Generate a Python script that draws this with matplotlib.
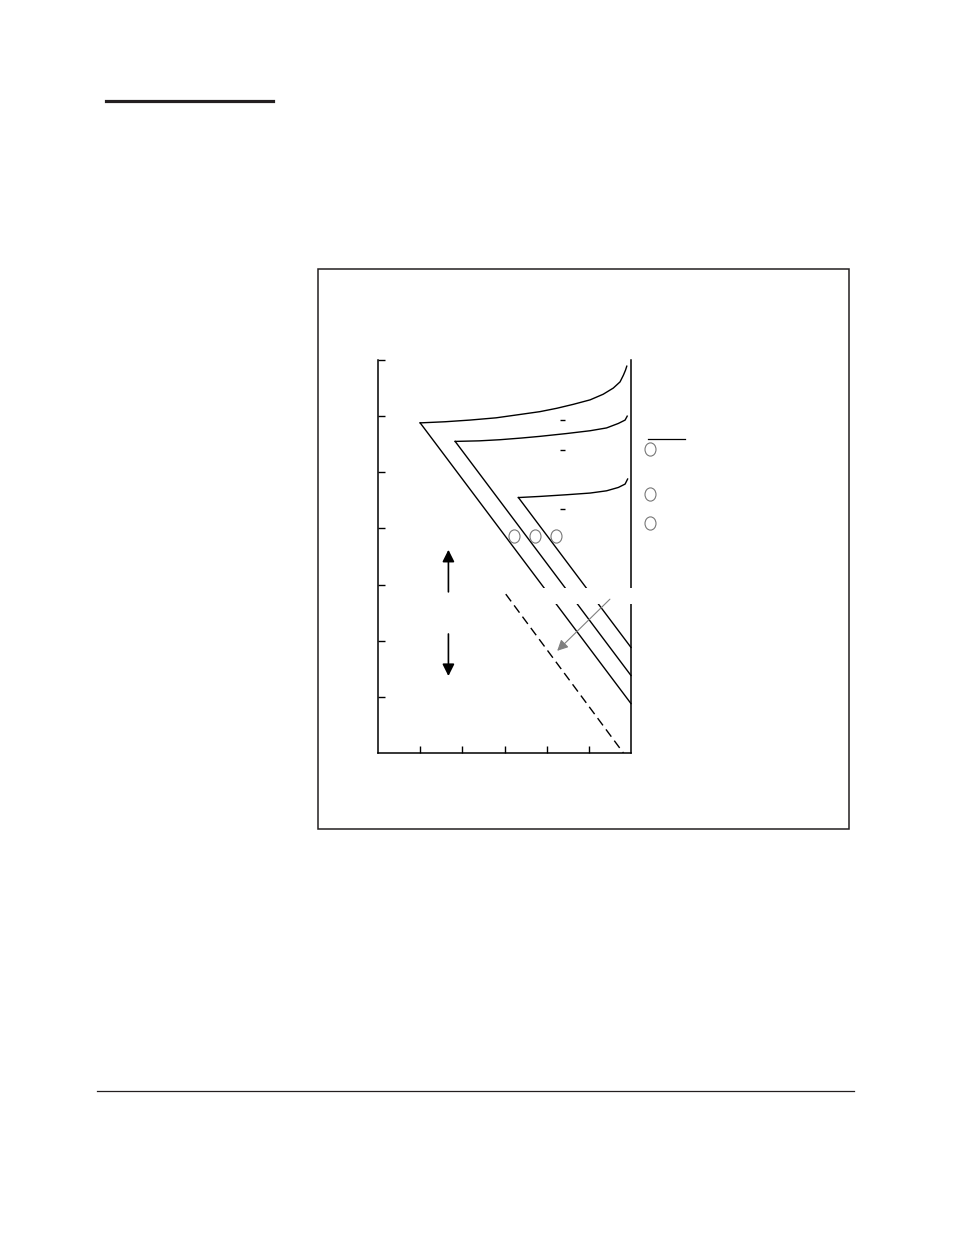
import numpy as np
import matplotlib
matplotlib.use("Agg")
import matplotlib.pyplot as plt
from matplotlib.path import Path
from matplotlib.transforms import Affine2D
from matplotlib.patches import Rectangle

# curve data (x: 0..6, y: 0..7 in axis units)
c1_x = [1.00, 1.59, 2.18, 2.80, 3.37, 3.84, 4.24, 4.63, 5.03, 5.34, 5.58, 5.74, 5.82, 5.87, 5.90]
c1_y = [5.88, 5.90, 5.93, 5.97, 6.03, 6.08, 6.14, 6.21, 6.29, 6.39, 6.50, 6.61, 6.73, 6.82, 6.89]
c2_x = [1.83, 2.40, 2.89, 3.40, 3.84, 4.47, 5.03, 5.42, 5.70, 5.86, 5.91]
c2_y = [5.55, 5.56, 5.58, 5.61, 5.64, 5.69, 5.74, 5.79, 5.87, 5.93, 6.00]
c3_x = [3.33, 3.84, 4.47, 5.03, 5.42, 5.70, 5.86, 5.92]
c3_y = [4.55, 4.57, 4.60, 4.63, 4.67, 4.73, 4.79, 4.88]

# straight legs, slope -1, end at the right axis
diag_x = [[1.00, 6.0], [1.83, 6.0], [3.33, 6.0]]
diag_y = [[5.88, 0.88], [5.55, 1.38], [4.55, 1.88]]
dash_x = [3.03, 5.82]
dash_y = [2.83, 0.00]

# circled markers (numbers missing) and short minus signs
circ_x = [3.23, 3.72, 4.22, 6.45, 6.45, 6.45]
circ_y = [3.87, 3.87, 3.87, 5.42, 4.61, 4.09]
minus_x = [4.375, 4.375, 4.375]
minus_y = [5.93, 5.40, 4.34]

xticks = [1, 2, 3, 4, 5]
yticks = [1, 2, 3, 4, 5, 6, 7]

W, H = 954, 1235
fig = plt.figure(figsize=(W / 100, H / 100), dpi=100)
ink = "#231f20"

# outer frame, header rule, footer rule
fig.add_artist(Rectangle((318 / W, 1 - 828.7 / H), 531 / W, 559.5 / H,
                         transform=fig.transFigure, fill=False, ec=ink, lw=1.1))
fig.add_artist(plt.Line2D([106 / W, 273 / W], [1 - 101.3 / H] * 2, color=ink, lw=2.3))
fig.add_artist(plt.Line2D([97 / W, 854 / W], [1 - 1091.3 / H] * 2, color=ink, lw=0.9))

ax = fig.add_axes([378 / W, 1 - 753 / H, 253 / W, 393 / H])
ax.set_xlim(0, 6)
ax.set_ylim(0, 7)
ax.spines["top"].set_visible(False)
for s in ["left", "bottom", "right"]:
    ax.spines[s].set_linewidth(1.1)
    ax.spines[s].set_color("black")
ax.set_xticks(xticks)
ax.set_yticks(yticks)
ax.tick_params(direction="in", length=5, width=1.0, labelleft=False, labelbottom=False)

for xs, ys in [(c1_x, c1_y), (c2_x, c2_y), (c3_x, c3_y)]:
    ax.plot(xs, ys, color="black", lw=1.0, solid_joinstyle="round", clip_on=False)
for xs, ys in zip(diag_x, diag_y):
    ax.plot(xs, ys, color="black", lw=1.0, clip_on=False)
ax.plot(dash_x, dash_y, color="black", lw=1.0, dashes=(6.5, 3.6))

# label box that hides the lines
ax.add_patch(Rectangle((3.55, 2.66), 2.75, 0.28, fc="white", ec="none",
                       zorder=3, clip_on=False))

ell = Path.unit_circle().transformed(Affine2D().scale(1.0, 1.2))
ax.plot(circ_x, circ_y, ls="none", marker=ell, ms=9.5, mfc="none",
        mec="#777777", mew=0.8, clip_on=False)
ax.hlines(minus_y, [x - 0.07 for x in minus_x], [x + 0.07 for x in minus_x],
          color="black", lw=1.0)
ax.plot([6.40, 7.28], [5.60, 5.60], color="black", lw=0.9, clip_on=False)

# arrows
blk = dict(arrowstyle="-|>", color="black", lw=1.2, mutation_scale=18,
           shrinkA=0, shrinkB=0)
ax.annotate("", xy=(1.67, 3.62), xytext=(1.67, 2.87), arrowprops=blk)
ax.annotate("", xy=(1.67, 1.37), xytext=(1.67, 2.12), arrowprops=blk)
ax.annotate("", xy=(4.25, 1.82), xytext=(5.50, 2.74), zorder=4,
            arrowprops=dict(arrowstyle="-|>", color="#808080", lw=0.8,
                            mutation_scale=16, shrinkA=0, shrinkB=0))

fig.savefig("out.png", dpi=100)
